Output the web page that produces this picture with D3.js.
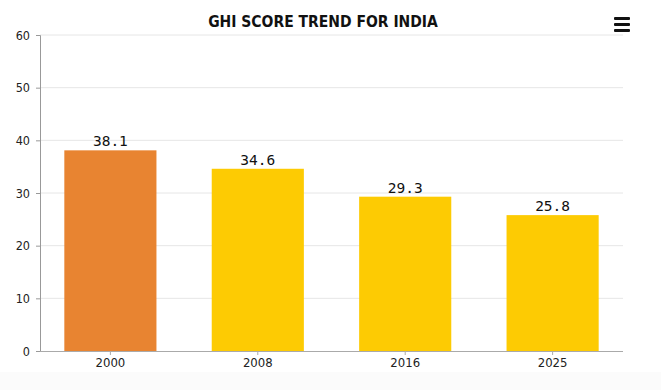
<!DOCTYPE html>
<html>
<head>
<meta charset="utf-8">
<script src="https://cdn.jsdelivr.net/npm/d3@7"></script>
<style>
  body { margin: 0; background: #fff; }
  svg { display: block; }
</style>
</head>
<body>
<svg id="chart" width="661" height="390"></svg>
<script>
// chart data
var years = ["2000", "2008", "2016", "2025"];
var scores = [38.1, 34.6, 29.3, 25.8];
var barColors = ["#e88431", "#fdcb03", "#fdcb03", "#fdcb03"];
var yTicks = [0, 10, 20, 30, 40, 50, 60];

var svgWidth = 661, svgHeight = 390;
var margin = { top: 35, right: 38, bottom: 39, left: 40 };
var width = svgWidth - margin.left - margin.right;
var height = svgHeight - margin.top - margin.bottom;

var svg = d3.select("#chart");

// faint band at the bottom
svg.append("rect")
  .attr("x", 0).attr("y", 372)
  .attr("width", svgWidth).attr("height", svgHeight - 372)
  .attr("fill", "#fbfbfb");

var chartGroup = svg.append("g")
  .attr("transform", `translate(${margin.left}, ${margin.top})`);

var xBandScale = d3.scaleBand()
  .domain(years)
  .range([0, width])
  .paddingInner(0.375)
  .paddingOuter(0.165);

var yLinearScale = d3.scaleLinear()
  .domain([0, 60])
  .range([height, 0]);

// gridlines
chartGroup.append("g")
  .selectAll("line")
  .data(yTicks.filter(d => d > 0))
  .enter()
  .append("line")
  .attr("x1", 0)
  .attr("x2", width)
  .attr("y1", d => yLinearScale(d))
  .attr("y2", d => yLinearScale(d))
  .attr("stroke", "#e6e6e6")
  .attr("stroke-width", 1);

// bars
var data = years.map((y, i) => ({ year: y, score: scores[i], color: barColors[i] }));

chartGroup.selectAll("rect.bar")
  .data(data)
  .enter()
  .append("rect")
  .attr("class", "bar")
  .attr("x", d => xBandScale(d.year))
  .attr("y", d => yLinearScale(d.score))
  .attr("width", xBandScale.bandwidth())
  .attr("height", d => height - yLinearScale(d.score))
  .attr("fill", d => d.color);

// value labels
chartGroup.selectAll("text.value")
  .data(data)
  .enter()
  .append("text")
  .attr("class", "value")
  .attr("x", d => xBandScale(d.year) + xBandScale.bandwidth() / 2)
  .attr("y", d => yLinearScale(d.score) - 4)
  .attr("text-anchor", "middle")
  .style("font", "14.5px 'DejaVu Sans Mono'")
  .style("fill", "#111")
  .text(d => d.score.toFixed(1));

// axes
var leftAxis = d3.axisLeft(yLinearScale).tickValues(yTicks).tickSize(4).tickPadding(6);
var bottomAxis = d3.axisBottom(xBandScale).tickSize(4).tickPadding(3);

var yAxis = chartGroup.append("g").call(leftAxis);
yAxis.select(".domain").attr("stroke", "#999").attr("d", `M-4,0.5H0.5V${height}`);
yAxis.selectAll(".tick line").attr("stroke", "#999");
yAxis.selectAll("text")
  .style("font", "12.5px 'DejaVu Sans Condensed', 'DejaVu Sans'")
  .style("fill", "#222");

var xAxis = chartGroup.append("g")
  .attr("transform", `translate(0, ${height})`)
  .call(bottomAxis);
xAxis.select(".domain").attr("stroke", "#aaa").attr("d", `M0,0.5H${width}`);
xAxis.selectAll(".tick line").attr("stroke", "#aaa");
xAxis.selectAll("text")
  .style("font", "13px 'DejaVu Sans Condensed', 'DejaVu Sans'")
  .style("fill", "#222");

// title
svg.append("text")
  .attr("x", 323)
  .attr("y", 27)
  .attr("text-anchor", "middle")
  .style("font", "bold 15.5px 'DejaVu Sans Condensed', 'DejaVu Sans'")
  .style("fill", "#111")
  .text("GHI SCORE TREND FOR INDIA");

// menu icon
var menu = svg.append("g").attr("transform", "translate(614, 17)");
[0, 6, 12].forEach(function(dy) {
  menu.append("rect")
    .attr("x", 0).attr("y", dy)
    .attr("width", 16).attr("height", 3)
    .attr("rx", 1)
    .attr("fill", "#111");
});
</script>
</body>
</html>
